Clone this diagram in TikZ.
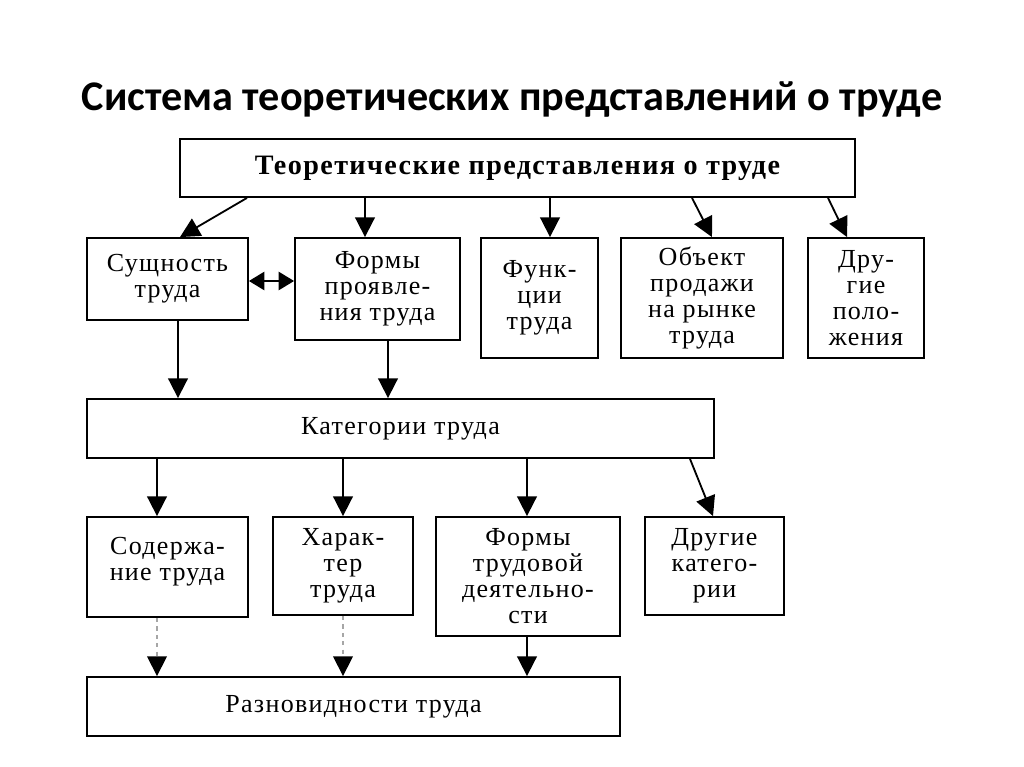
\documentclass[tikz,border=0pt]{standalone}
\usepackage{fontspec}
\setmainfont{Liberation Serif}
\newfontfamily\titlefont{Carlito}
\newfontfamily\boxfont[LetterSpace=5]{Liberation Serif}
\usetikzlibrary{arrows.meta}
\def\px{0.025cm}
\begin{document}
\begin{tikzpicture}[x=\px,y=-\px,
box/.style={draw,line width=1.3pt,align=center,inner sep=0pt,font=\boxfont\fontsize{18.5}{18.5}\selectfont},
arr/.style={-{Triangle[length=14pt,width=14pt]},line width=1.3pt},
dash arr/.style={-{Triangle[length=14pt,width=14pt,color=black]},line width=1pt,draw=black!35,dashed},
both arr/.style={{Triangle[length=11pt,width=13pt]}-{Triangle[length=11pt,width=13pt]},line width=1.3pt}]
\useasboundingbox (0,0) rectangle (1024,767);
\node (title) at (512,100) {\titlefont\bfseries\fontsize{30}{36}\selectfont Система теоретических представлений о труде};

\node[box,minimum width=675*\px,minimum height=58*\px] (top) at (517.5,168) {\fontsize{20}{20}\selectfont\bfseries Теоретические представления о труде};
\node[box,minimum width=161*\px,minimum height=82*\px] (sushch) at (167.5,279) {Сущность\\труда};
\node[box,minimum width=165*\px,minimum height=102*\px] (formy) at (377.5,289) {Формы\\проявле-\\ния труда};
\node[box,minimum width=117*\px,minimum height=120*\px] (funk) at (539.5,298) {Функ-\\ции\\труда};
\node[box,minimum width=162*\px,minimum height=120*\px] (obj) at (702,298) {Объект\\продажи\\на рынке\\труда};
\node[box,minimum width=116*\px,minimum height=120*\px] (drug) at (866,298) {Дру-\\гие\\поло-\\жения};
\node[box,minimum width=627*\px,minimum height=59*\px] (kat) at (400.5,428.5) {Категории труда};
\node[box,minimum width=161*\px,minimum height=100*\px,text depth=16*\px] (soder) at (167.5,567) {Содержа-\\ние труда};
\node[box,minimum width=140*\px,minimum height=98*\px] (harak) at (343,566) {Харак-\\тер\\труда};
\node[box,minimum width=184*\px,minimum height=119*\px] (ftrud) at (528,576.5) {Формы\\трудовой\\деятельно-\\сти};
\node[box,minimum width=139*\px,minimum height=98*\px] (drkat) at (714.5,566) {Другие\\катего-\\рии};
\node[box,minimum width=533*\px,minimum height=59*\px] (razn) at (353.5,706.5) {Разновидности труда};

\draw [arr] (top.south -| 247,0) -- (sushch.north -| 180,0);
\draw [arr] (top.south -| 365,0) -- (formy.north -| 365,0);
\draw [arr] (top.south -| 550,0) -- (funk.north -| 550,0);
\draw [arr] (top.south -| 692,0) -- (obj.north -| 712,0);
\draw [arr] (top.south -| 828,0) -- (drug.north -| 847,0);
\draw [both arr] (sushch.east |- 0,281) -- (formy.west |- 0,281);

\draw [arr] (sushch.south -| 178,0) -- (kat.north -| 178,0);
\draw [arr] (formy.south -| 388,0) -- (kat.north -| 388,0);

\draw [arr] (kat.south -| 157,0) -- (soder.north -| 157,0);
\draw [arr] (kat.south -| 343,0) -- (harak.north -| 343,0);
\draw [arr] (kat.south -| 527,0) -- (ftrud.north -| 527,0);
\draw [arr] (kat.south -| 690,0) -- (drkat.north -| 713,0);

\draw [dash arr] (soder.south -| 157,0) -- (razn.north -| 157,0);
\draw [dash arr] (harak.south -| 343,0) -- (razn.north -| 343,0);
\draw [arr] (ftrud.south -| 527,0) -- (razn.north -| 527,0);
\end{tikzpicture}
\end{document}
